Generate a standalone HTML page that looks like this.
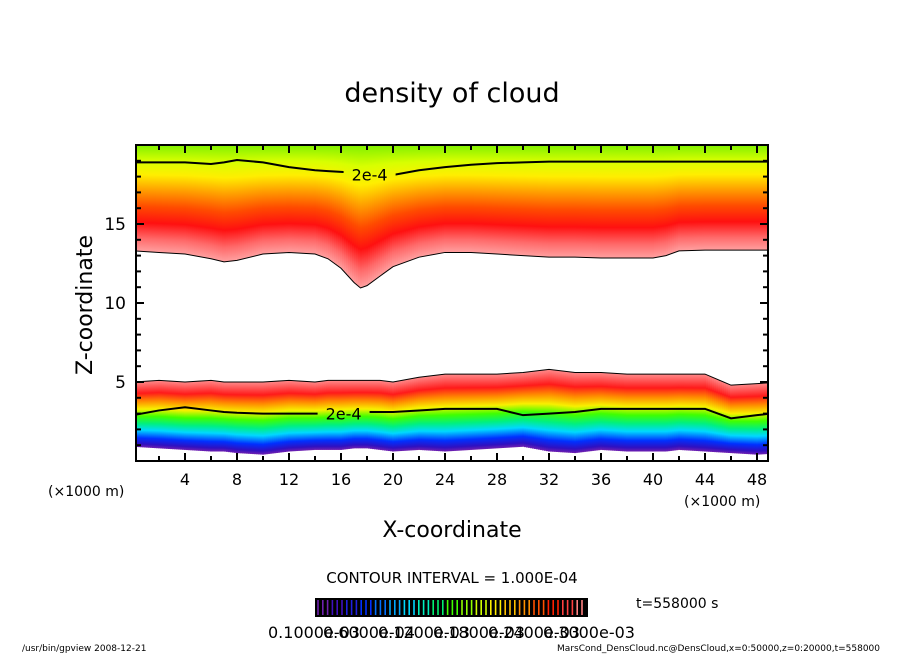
<!DOCTYPE html>
<html><head><meta charset="utf-8"><style>
body{margin:0;background:#fff;}
svg text{font-family:"DejaVu Sans","Liberation Sans",sans-serif;}
</style></head><body>
<svg id="chart" width="904" height="654" xmlns="http://www.w3.org/2000/svg">
<defs>
<linearGradient id="gUp" x1="0" y1="1" x2="0" y2="0">
<stop offset="0" stop-color="#ffa0a0"/><stop offset="0.12" stop-color="#ff6a6a"/>
<stop offset="0.27" stop-color="#ff1010"/><stop offset="0.42" stop-color="#ff4a00"/>
<stop offset="0.58" stop-color="#ffa000"/><stop offset="0.72" stop-color="#ffee00"/>
<stop offset="0.85" stop-color="#d8ff00"/><stop offset="1" stop-color="#80f000"/>
</linearGradient>
<linearGradient id="gLo" x1="0" y1="0" x2="0" y2="1">
<stop offset="0" stop-color="#ff8a8a"/><stop offset="0.18" stop-color="#ff1a1a"/>
<stop offset="0.3" stop-color="#ff8a00"/><stop offset="0.42" stop-color="#f8f000"/>
<stop offset="0.53" stop-color="#40ff00"/><stop offset="0.64" stop-color="#00f080"/>
<stop offset="0.74" stop-color="#00d8ff"/><stop offset="0.86" stop-color="#0030ff"/>
<stop offset="0.95" stop-color="#3010c0"/><stop offset="1" stop-color="#7020b0"/>
</linearGradient>
<clipPath id="clip"><rect x="136" y="145" width="632" height="316"/></clipPath>
<mask id="lblmask" maskUnits="userSpaceOnUse" x="0" y="0" width="904" height="654">
<rect x="0" y="0" width="904" height="654" fill="#fff"/>
<g id="maskholes"></g>
</mask>
</defs>
<text x="452" y="102" font-size="27" text-anchor="middle">density of cloud</text>
<g id="plot" clip-path="url(#clip)"></g>
<g id="lines" clip-path="url(#clip)" mask="url(#lblmask)"></g>
<g id="labels"></g>
<g id="axes"></g>
<text transform="translate(92,305) rotate(-90)" font-size="22" text-anchor="middle">Z-coordinate</text>
<text x="452" y="537" font-size="22" text-anchor="middle">X-coordinate</text>
<text x="48" y="496" font-size="14">(×1000 m)</text>
<text x="684" y="506" font-size="14">(×1000 m)</text>
<text x="452" y="583" font-size="15" text-anchor="middle">CONTOUR INTERVAL = 1.000E-04</text>
<text x="636" y="608" font-size="14">t=558000 s</text>
<rect x="315" y="598" width="273" height="19" fill="#000"/>
<g id="cbar"></g>
<g id="cbl" font-size="16"></g>
<text x="22" y="651" font-size="9">/usr/bin/gpview  2008-12-21</text>
<text x="880" y="651" font-size="9" text-anchor="end">MarsCond_DensCloud.nc@DensCloud,x=0:50000,z=0:20000,t=558000</text>
</svg>
<script>
const xs      = [0,2,4,6,7,8,10,12,14,15,16,17,17.5,18,19,20,22,24,26,28,30,32,34,36,38,40,41,42,44,46,48,50];
const upBase  = [13.3,13.2,13.1,12.8,12.6,12.7,13.1,13.2,13.1,12.8,12.2,11.3,10.95,11.1,11.7,12.3,12.9,13.2,13.2,13.1,13.0,12.9,12.9,12.85,12.85,12.85,13.0,13.3,13.35,13.35,13.35,13.35];
const upCont  = [18.9,18.9,18.9,18.8,18.9,19.05,18.9,18.6,18.4,18.35,18.3,18.25,18.2,18.15,18.1,18.1,18.4,18.6,18.75,18.85,18.9,18.95,18.95,18.95,18.95,18.95,18.95,18.95,18.95,18.95,18.95,18.95];
const loTop   = [5.0,5.1,5.0,5.1,5.0,5.0,5.0,5.1,5.0,5.1,5.1,5.1,5.1,5.1,5.1,5.0,5.3,5.5,5.5,5.5,5.6,5.8,5.6,5.6,5.5,5.5,5.5,5.5,5.5,4.8,4.9,5.0];
const loCont  = [2.9,3.2,3.4,3.2,3.1,3.05,3.0,3.0,3.0,3.0,3.0,3.05,3.05,3.1,3.1,3.1,3.2,3.3,3.3,3.3,2.9,3.0,3.1,3.3,3.3,3.3,3.3,3.3,3.3,2.7,2.9,3.1];
const loBase  = [0.9,0.8,0.7,0.6,0.6,0.5,0.4,0.6,0.7,0.7,0.7,0.8,0.8,0.8,0.7,0.6,0.7,0.6,0.7,0.8,0.9,0.6,0.5,0.7,0.6,0.6,0.6,0.7,0.6,0.5,0.4,0.5];
const xTicks  = [4,8,12,16,20,24,28,32,36,40,44,48];
const yTicks  = [5,10,15];
const cbLabels= ["0.1000e-03","0.6000e-04","0.1200e-03","0.1800e-03","0.2400e-03","0.3000e-03"];

const NS="http://www.w3.org/2000/svg";
const X=v=>133+13*v, Y=v=>461-15.8*v;
function interp(arr,x){for(let i=0;i<xs.length-1;i++){if(x<=xs[i+1]){const t=(x-xs[i])/(xs[i+1]-xs[i]);return arr[i]+t*(arr[i+1]-arr[i]);}}return arr[arr.length-1];}
function mk(tag,attrs,parent){const e=document.createElementNS(NS,tag);for(const k in attrs)e.setAttribute(k,attrs[k]);parent.appendChild(e);return e;}
const plot=document.getElementById('plot'), axes=document.getElementById('axes'), lines=document.getElementById('lines'), labels=document.getElementById('labels'), holes=document.getElementById('maskholes');
for(let px=136;px<768;px+=2){
  const xv=(px+1-133)/13;
  const ub=Y(interp(upBase,xv));
  const r1=mk('rect',{x:px,y:145,width:2.3,height:ub-145,fill:'url(#gUp)'},plot);
  
  
  const lt=Y(interp(loTop,xv)), lb=Y(interp(loBase,xv));
  const r2=mk('rect',{x:px,y:lt,width:2.3,height:lb-lt,fill:'url(#gLo)'},plot);
  
  
}
function line(arr,name,w){const d=xs.map((x,i)=>(i?'L':'M')+X(x)+','+Y(arr[i])).join(' ');const p=mk('path',{d:d,fill:'none',stroke:'#000','stroke-width':w},lines);}
line(upBase,'upper-boundary-line',1);line(upCont,'upper-contour-2e-4',2);line(loTop,'lower-top-line',1);line(loCont,'lower-contour-2e-4',2);
[[18.2,upCont,'upper-contour-label'],[16.2,loCont,'lower-contour-label']].forEach(([xv,arr,n])=>{
  const cx=X(xv),cy=Y(interp(arr,xv));
  mk('rect',{x:cx-26,y:cy-10,width:52,height:20,fill:'#000'},holes);
  const t=mk('text',{x:cx,y:cy+6,'font-size':16,'text-anchor':'middle',fill:'#000'},labels);
  t.textContent='2e-4';
});
const fr=mk('rect',{x:136,y:145,width:632,height:316,fill:'none',stroke:'#000','stroke-width':2},axes);

for(let v=2;v<=48;v+=2){const px=X(v),L=(v%4==0)?8:5;
  mk('line',{x1:px,y1:461,x2:px,y2:461-L,stroke:'#000','stroke-width':2},axes);
  mk('line',{x1:px,y1:145,x2:px,y2:145+L,stroke:'#000','stroke-width':2},axes);}
for(let v=1;v<20;v++){const py=Y(v),L=(v%5==0)?8:5;
  mk('line',{x1:136,y1:py,x2:136+L,y2:py,stroke:'#000','stroke-width':2},axes);
  mk('line',{x1:768,y1:py,x2:768-L,y2:py,stroke:'#000','stroke-width':2},axes);}
xTicks.forEach(v=>{const t=mk('text',{x:X(v),y:485,'font-size':16,'text-anchor':'middle'},axes);t.textContent=v;});
yTicks.forEach(v=>{const t=mk('text',{x:126,y:Y(v)+6,'font-size':17,'text-anchor':'end'},axes);t.textContent=v;});
const cb=document.getElementById('cbar');
const cols=['#7020b0','#4010c0','#2020e0','#0030ff','#0070ff','#00a8ff','#00d8ff','#00f0c0','#00f070','#40ff00','#90ff00','#d0ff00','#ffee00','#ffc000','#ff9000','#ff5000','#ff2000','#ff4040','#ff8080'];
for(let i=0;i<56;i++){const px=318+i*4.8;const c=cols[Math.floor(i/56*cols.length)];
  const l=mk('line',{x1:px,y1:600,x2:px,y2:615,stroke:c,'stroke-width':1.6},cb);
  }
const cbl=document.getElementById('cbl');
cbLabels.forEach((s,i)=>{const t=mk('text',{x:268+i*55,y:638},cbl);t.textContent=s;});
</script>
</body></html>
